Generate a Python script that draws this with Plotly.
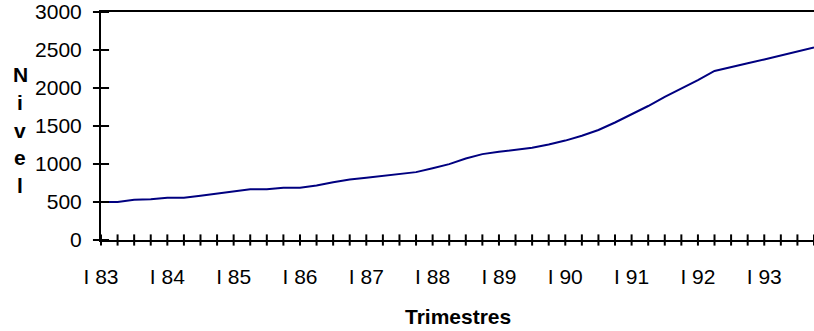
import plotly.graph_objects as go

# Quarterly level, I 1983 .. IV 1993
quarters = list(range(44))
nivel = [500, 500, 530, 535, 557, 557, 583, 610, 638, 667, 667, 688,
         688, 717, 760, 795, 820, 846, 868, 893, 943, 998, 1072, 1130,
         1161, 1184, 1213, 1257, 1308, 1371, 1447, 1546, 1650, 1763, 1882, 1991,
         2105, 2224, 2271, 2326, 2376, 2432, 2487, 2534]

year_ticks = [0, 4, 8, 12, 16, 20, 24, 28, 32, 36, 40]
year_labels = ["I 83", "I 84", "I 85", "I 86", "I 87", "I 88",
               "I 89", "I 90", "I 91", "I 92", "I 93"]
y_ticks = [0, 500, 1000, 1500, 2000, 2500, 3000]
y_title_letters = ["N", "i", "v", "e", "l"]

FONT = "Liberation Sans, Arial, sans-serif"
W, H = 814, 331
L, R, T, B = 101, 0, 12, 91
plot_h = H - T - B

fig = go.Figure()

fig.add_trace(go.Scatter(
    x=quarters, y=nivel, mode="lines",
    line=dict(color="#000080", width=2),
    cliponaxis=False, hoverinfo="skip", showlegend=False,
))

# tick marks crossing the category axis, one per quarter
fig.add_trace(go.Scatter(
    x=quarters, y=[0] * len(quarters), mode="markers",
    marker=dict(symbol="line-ns", size=8, line=dict(color="black", width=2)),
    cliponaxis=False, hoverinfo="skip", showlegend=False,
))
# tick marks crossing the value axis
fig.add_trace(go.Scatter(
    x=[0] * len(y_ticks), y=y_ticks, mode="markers",
    marker=dict(symbol="line-ew", size=11.5, line=dict(color="black", width=2)),
    cliponaxis=False, hoverinfo="skip", showlegend=False,
))

fig.update_layout(
    width=W, height=H,
    margin=dict(l=L, r=R, t=T, b=B, pad=0),
    paper_bgcolor="white", plot_bgcolor="white",
    font=dict(family=FONT, size=21, color="black"),
    showlegend=False,
    xaxis=dict(
        range=[0, 43], tickvals=year_ticks, ticktext=year_labels,
        ticks="", showgrid=False, zeroline=False,
        showline=True, linecolor="black", linewidth=2, mirror=True,
        ticklabelstandoff=17, fixedrange=True,
    ),
    yaxis=dict(
        range=[0, 3000], tickvals=y_ticks,
        ticks="", showgrid=False, zeroline=False,
        showline=True, linecolor="black", linewidth=2,
        ticklabelstandoff=13, fixedrange=True,
    ),
)

def px_to_paper_y(py):
    return (H - B - py) / plot_h

def px_to_paper_x(px):
    return (px - L) / (W - L - R)

fig.add_annotation(
    text="<b>Trimestres</b>", xref="paper", yref="paper",
    x=0.5, y=px_to_paper_y(316), xanchor="center", yanchor="middle",
    showarrow=False, font=dict(family=FONT, size=21),
)

letter_y = [74.5, 102.3, 130, 157.8, 185.5]
for ch, py in zip(y_title_letters, letter_y):
    fig.add_annotation(
        text=f"<b>{ch}</b>", xref="paper", yref="paper",
        x=px_to_paper_x(20), y=px_to_paper_y(py),
        xanchor="center", yanchor="middle",
        showarrow=False, font=dict(family=FONT, size=21),
    )

fig.write_html("out.html")
